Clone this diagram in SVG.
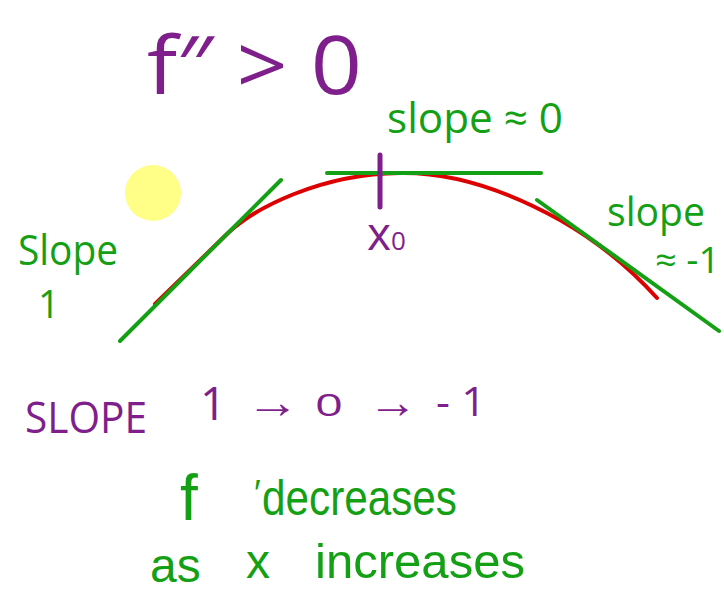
<svg xmlns="http://www.w3.org/2000/svg" width="724" height="594" viewBox="0 0 724 594">
<style>
.g{fill:#14a014;font-family:"Open Sans","Liberation Sans",sans-serif}
.p{fill:#7e1f8c;font-family:"Open Sans","Liberation Sans",sans-serif}
.gl{stroke:#14a014;stroke-width:4;stroke-linecap:round;fill:none}
.lib{font-family:"Liberation Sans",Arial,sans-serif}
</style>
<rect width="724" height="594" fill="#ffffff"/>
<g id="sun"><circle cx="153" cy="193" r="28" fill="#ffff88"/></g>
<g id="curve"><path d="M155,304 L228,233 C255,208 320,174 400,173 C460,172 515,195 560,220 C595,240 630,268 657,298" fill="none" stroke="#dd0000" stroke-width="4" stroke-linecap="round" stroke-linejoin="round"/></g>
<g id="connectors">
<line class="gl" x1="120" y1="341" x2="281" y2="180"/>
<line class="gl" x1="327" y1="173" x2="541" y2="173"/>
<line class="gl" x1="537" y1="200" x2="719" y2="331"/>
<line x1="380" y1="155" x2="380" y2="207" stroke="#7e1f8c" stroke-width="5" stroke-linecap="round"/>
</g>
<g id="title"><text class="p" x="147" y="94" font-size="80" textLength="215" lengthAdjust="spacingAndGlyphs">f″ &gt; 0</text></g>
<g id="slope0"><text class="g" x="387" y="133" font-size="42" textLength="176" lengthAdjust="spacingAndGlyphs">slope ≈ 0</text></g>
<g id="slope1">
<text class="g" x="18" y="265" font-size="42" textLength="100" lengthAdjust="spacingAndGlyphs">Slope</text>
<text class="g" x="38" y="318" font-size="38">1</text>
</g>
<g id="slopem1">
<text class="g" x="607" y="226" font-size="40" textLength="98" lengthAdjust="spacingAndGlyphs">slope</text>
<text class="g" x="655" y="273" font-size="36" textLength="65" lengthAdjust="spacingAndGlyphs">≈ -1</text>
</g>
<g id="x0"><text class="p" x="367" y="250" font-size="46">x<tspan font-size="26">0</tspan></text></g>
<g id="slopeseq">
<text class="p" x="25" y="433" font-size="44" textLength="122" lengthAdjust="spacingAndGlyphs">SLOPE</text>
<text class="p" x="200" y="420" font-size="46">1</text>
<text class="p" x="246" y="418" font-size="46" textLength="54" lengthAdjust="spacingAndGlyphs">→</text>
<text class="p" x="315" y="416" font-size="31" textLength="28" lengthAdjust="spacingAndGlyphs">0</text>
<text class="p" x="368" y="418" font-size="46" textLength="50" lengthAdjust="spacingAndGlyphs">→</text>
<text class="p" x="436" y="416" font-size="40" textLength="50" lengthAdjust="spacingAndGlyphs">- 1</text>
</g>
<g id="fdec">
<text class="g lib" y="516" font-size="50"><tspan x="180" y="520" font-size="64">f</tspan><tspan x="254" y="506" font-size="36">′</tspan><tspan x="262" y="515" textLength="195" lengthAdjust="spacingAndGlyphs">decreases</tspan></text>
</g>
<g id="asx">
<text class="g lib" y="580" font-size="48"><tspan x="150" y="582">as</tspan><tspan x="246" y="578">x</tspan><tspan x="315" y="578" textLength="210" lengthAdjust="spacingAndGlyphs">increases</tspan></text>
</g>
</svg>
